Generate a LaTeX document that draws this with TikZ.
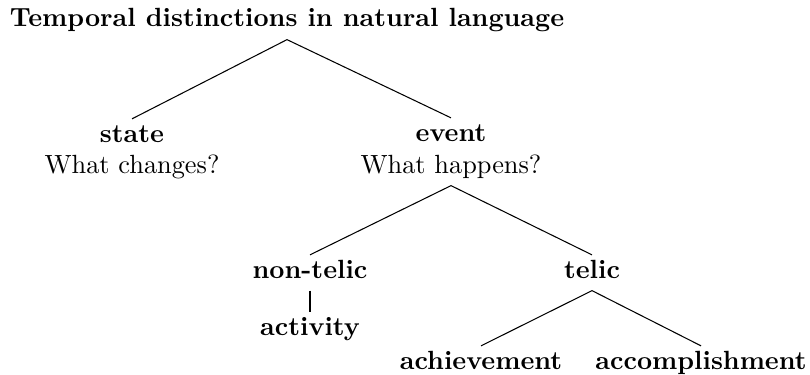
\documentclass[tikz,border=0pt]{standalone}
\usepackage{tikz}

\begin{document}
\begin{tikzpicture}[x=0.38pt, y=-0.38pt,
    CAT/.style={font=\bfseries, inner xsep=0pt, inner ysep=0pt, anchor=base, text height=8.6pt, text depth=4.6pt},
    QST/.style={inner xsep=0pt, inner ysep=0pt, anchor=base, text height=8.6pt, text depth=4.6pt}
    ]
        \useasboundingbox (0,0) rectangle (810,374);
        \node[CAT] (TD) at (287,27) {Temporal distinctions in natural language};
        \node[CAT] (ST) at (132,142) {state};
        \node[QST] (STq) at (132,173) {What changes?};
        \node[CAT] (EV) at (451,141) {event};
        \node[QST] (EVq) at (451,173) {What happens?};
        \node[CAT] (NT) at (310,278) {non-telic};
        \node[CAT] (TL) at (592,278) {telic};
        \node[CAT] (AC) at (310,335) {activity};
        \node[CAT] (AH) at (481,369) {achievement};
        \node[CAT] (AP) at (701,369) {accomplishment};
        % tree edges
        \draw (TD.south) -- (ST.north);
        \draw (TD.south) -- (EV.north);
        \draw (EVq.south) -- (NT.north);
        \draw (EVq.south) -- (TL.north);
        \draw (NT.south) -- (AC.north);
        \draw (TL.south) -- (AH.north);
        \draw (TL.south) -- (AP.north);
    \end{tikzpicture}
\end{document}
